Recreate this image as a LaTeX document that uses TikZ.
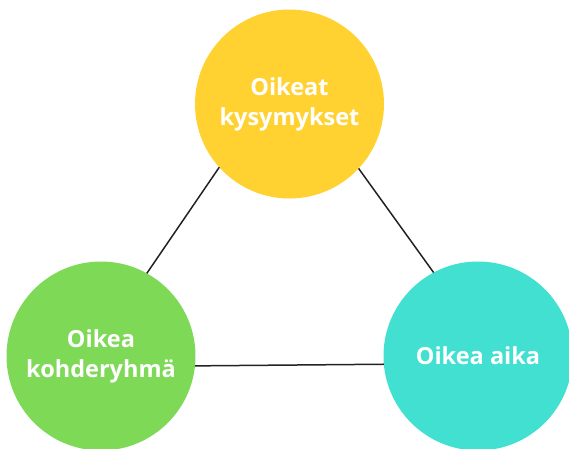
\documentclass[tikz,border=0pt]{standalone}
\usepackage{fontspec}
\setmainfont{Open Sans}
\usetikzlibrary{positioning}
\definecolor{ballyellow}{HTML}{FFD232}
\definecolor{ballgreen}{HTML}{7ED957}
\definecolor{ballteal}{HTML}{41E0D0}
\definecolor{edgeink}{HTML}{222222}

\begin{document}
\begin{tikzpicture}[x=1pt, y=-1pt,
    ball/.style={circle, minimum size=189pt, inner sep=0pt, outer sep=0pt,
                 text=white, align=center,
                 font=\bfseries\fontsize{23.5}{30}\selectfont},
    edge/.style={edgeink, line width=1.5pt}]
  \useasboundingbox (0,0) rectangle (569,448);
  % the three circles
  \node[ball, fill=ballyellow] (oikeat) at (289.5,104) {Oikeat\\kysymykset};
  \node[ball, fill=ballgreen] (kohde) at (101,356) {Oikea\\kohderyhmä};
  \node[ball, fill=ballteal] (aika) at (478,356) {Oikea aika};
  % triangle sides
  \draw[edge] (oikeat.222.6) -- (kohde.61);
  \draw[edge] (oikeat.317.6) -- (aika.118.5);
  \draw[edge] (kohde.354.5) -- (aika.185.5);
\end{tikzpicture}
\end{document}
